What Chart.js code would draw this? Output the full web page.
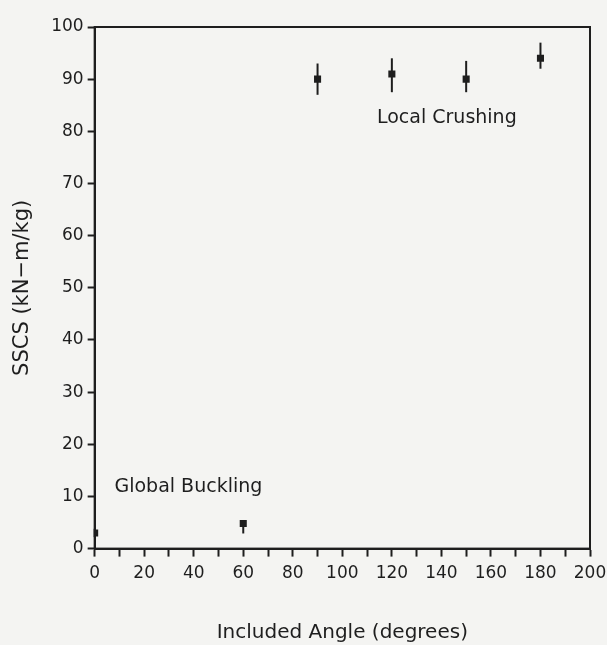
<!DOCTYPE html>
<html>
<head>
<meta charset="utf-8">
<script src="https://cdn.jsdelivr.net/npm/chart.js@4/dist/chart.umd.min.js"></script>
<style>
  html, body { margin: 0; padding: 0; background: #f4f4f2; }
  #wrap { width: 607px; height: 645px; }
</style>
</head>
<body>
<div id="wrap"><canvas id="myChart" width="607" height="645"></canvas></div>
<script>
// included angle (degrees) and specific sustained crushing stress
const angles = [0, 60, 90, 120, 150, 180];
const sscs = [3, 4.8, 90, 91, 90, 94];
const errLow = [2.2, 2.9, 87, 87.5, 87.5, 92];
const errHigh = [3.8, 5.4, 93, 94, 93.5, 97];

const notes = [
    { text: 'Global Buckling', x: 8, y: 11.8 },
    { text: 'Local Crushing', x: 114, y: 82.6 }
];

const ink = '#1e1e1e';
const font = "'DejaVu Sans', sans-serif";

const points = angles.map((a, i) => ({ x: a, y: sscs[i] }));

// error bars, box and text labels drawn through the scales
const extras = {
    id: 'extras',
    afterDatasetsDraw(chart) {
        const ctx = chart.ctx;
        const xs = chart.scales.x;
        const ys = chart.scales.y;
        const area = chart.chartArea;
        ctx.save();
        ctx.strokeStyle = ink;
        ctx.lineWidth = 2;
        ctx.strokeRect(area.left, area.top, area.right - area.left, area.bottom - area.top);

        angles.forEach((a, i) => {
            const px = xs.getPixelForValue(a);
            ctx.beginPath();
            ctx.moveTo(px, ys.getPixelForValue(errLow[i]));
            ctx.lineTo(px, ys.getPixelForValue(errHigh[i]));
            ctx.stroke();
        });

        ctx.fillStyle = ink;
        ctx.font = '19px ' + font;
        ctx.textBaseline = 'middle';
        ctx.textAlign = 'left';
        notes.forEach(n => {
            ctx.fillText(n.text, xs.getPixelForValue(n.x), ys.getPixelForValue(n.y));
        });
        ctx.restore();
    }
};

const ctx = document.getElementById('myChart').getContext('2d');
new Chart(ctx, {
    type: 'scatter',
    data: {
        datasets: [
            {
                label: 'SSCS',
                data: points,
                pointStyle: 'rect',
                pointRadius: 5,
                pointHoverRadius: 5,
                backgroundColor: ink,
                borderColor: ink,
                borderWidth: 0
            }
        ]
    },
    options: {
        responsive: false,
        animation: false,
        layout: { padding: { top: 27, right: 0, left: 10, bottom: 0 } },
        plugins: {
            legend: { display: false },
            tooltip: { enabled: false }
        },
        scales: {
            x: {
                type: 'linear',
                min: 0,
                max: 200,
                afterFit: scale => { scale.paddingRight = 17; },
                border: { display: true, color: ink, width: 2 },
                grid: {
                    drawOnChartArea: false,
                    drawTicks: true,
                    tickLength: 8,
                    tickWidth: 2,
                    tickColor: ink
                },
                ticks: {
                    stepSize: 10,
                    color: ink,
                    font: { family: font, size: 17 },
                    padding: 7,
                    maxRotation: 0,
                    autoSkip: false,
                    callback: v => (v % 20 === 0 ? String(v) : '')
                },
                title: {
                    display: true,
                    text: 'Included Angle (degrees)',
                    color: ink,
                    font: { family: font, size: 20 },
                    padding: { top: 30, bottom: 0 }
                }
            },
            y: {
                min: 0,
                max: 100,
                border: { display: true, color: ink, width: 2 },
                grid: {
                    drawOnChartArea: false,
                    drawTicks: true,
                    tickLength: 7,
                    tickWidth: 2,
                    tickColor: ink
                },
                ticks: {
                    stepSize: 10,
                    color: ink,
                    font: { family: font, size: 17 },
                    padding: 4
                },
                title: {
                    display: true,
                    text: 'SSCS (kN\u2212m/kg)',
                    color: ink,
                    font: { family: font, size: 21 },
                    padding: { top: 0, bottom: 12 }
                }
            }
        }
    },
    plugins: [extras]
});
</script>
</body>
</html>
